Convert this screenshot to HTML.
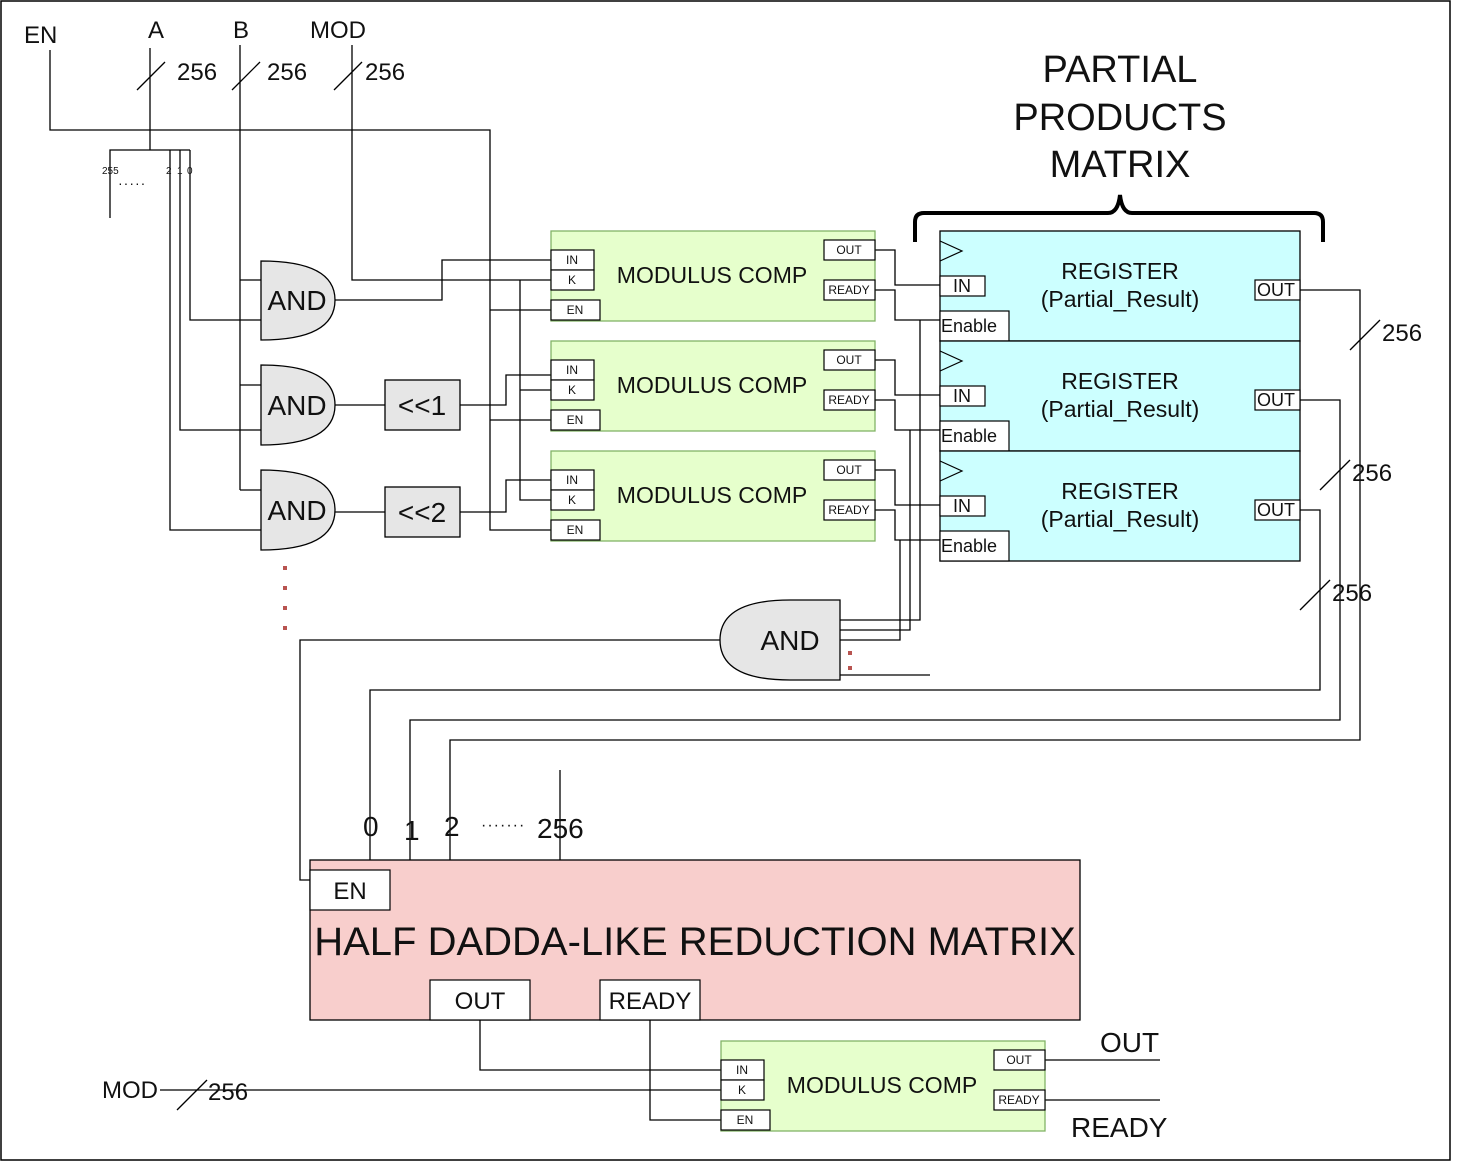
<!DOCTYPE html>
<html><head><meta charset="utf-8"><style>
html,body{margin:0;padding:0;background:#fff}
svg{display:block}
text{font-family:"Liberation Sans",Arial,sans-serif;fill:#111}
</style></head><body>
<svg width="1481" height="1162" viewBox="0 0 1481 1162" xmlns="http://www.w3.org/2000/svg">
<rect x="1" y="1" width="1449" height="1159" fill="#fff" stroke="#000" stroke-width="1.5"/>
<g stroke="#000" stroke-width="1.3" fill="none">
<polyline points="50,50 50,130 490,130 490,530 551,530"/>
<line x1="490" y1="310" x2="551" y2="310"/>
<line x1="490" y1="420" x2="551" y2="420"/>
<line x1="150" y1="48" x2="150" y2="150"/>
<polyline points="110,218 110,150 190,150"/>
<line x1="137" y1="90" x2="165" y2="62"/>
<polyline points="190,150 190,320 261,320"/>
<polyline points="180,150 180,430 261,430"/>
<polyline points="170,150 170,530 261,530"/>
<line x1="240" y1="45" x2="240" y2="490"/>
<line x1="232" y1="90" x2="260" y2="62"/>
<line x1="240" y1="280" x2="261" y2="280"/>
<line x1="240" y1="385" x2="261" y2="385"/>
<line x1="240" y1="490" x2="261" y2="490"/>
<polyline points="352,45 352,280 551,280"/>
<line x1="334" y1="90" x2="362" y2="62"/>
<polyline points="520,280 520,500 551,500"/>
<line x1="520" y1="390" x2="551" y2="390"/>
<polyline points="333,300 442,300 442,260 551,260"/>
<line x1="333" y1="405" x2="385" y2="405"/>
<line x1="333" y1="512" x2="385" y2="512"/>
<polyline points="460,405 506,405 506,375 551,375"/>
<polyline points="460,512 506,512 506,480 551,480"/>
<polyline points="875,250 895,250 895,285 940,285"/>
<polyline points="875,290 895,290 895,320 940,320"/>
<polyline points="875,360 895,360 895,395 940,395"/>
<polyline points="875,400 895,400 895,430 940,430"/>
<polyline points="875,470 895,470 895,505 940,505"/>
<polyline points="875,510 895,510 895,540 940,540"/>
<polyline points="920,320 920,620 840,620"/>
<polyline points="910,430 910,630 840,630"/>
<polyline points="900,540 900,640 840,640"/>
<line x1="840" y1="675" x2="930" y2="675"/>
<polyline points="720,640 300,640 300,880 310,880"/>
<polyline points="1300,290 1360,290 1360,740 450,740 450,860"/>
<polyline points="1300,400 1340,400 1340,720 410,720 410,860"/>
<polyline points="1300,510 1320,510 1320,690 370,690 370,860"/>
<line x1="1350" y1="350" x2="1380" y2="320"/>
<line x1="1320" y1="490" x2="1350" y2="460"/>
<line x1="1300" y1="610" x2="1330" y2="580"/>
<line x1="560" y1="770" x2="560" y2="860"/>
<polyline points="480,1020 480,1070 721,1070"/>
<polyline points="650,1020 650,1120 721,1120"/>
<line x1="160" y1="1090" x2="721" y2="1090"/>
<line x1="177" y1="1110" x2="207" y2="1080"/>
<line x1="1045" y1="1060" x2="1160" y2="1060"/>
<line x1="1045" y1="1100" x2="1160" y2="1100"/>
<path d="M915,242 V222 Q915,213 924,213 H1108 Q1118,213 1120,195 Q1122,213 1132,213 H1314 Q1323,213 1323,222 V242" stroke-width="4"/>
</g>
<g fill="#e6e6e6" stroke="#000" stroke-width="1.3">
<path d="M261,261 Q335,261 335,300 Q335,340 261,340 Z"/>
<path d="M261,365 Q335,365 335,405 Q335,445 261,445 Z"/>
<path d="M261,470 Q335,470 335,510 Q335,550 261,550 Z"/>
<path d="M840,600 H790 Q720,600 720,640 Q720,680 790,680 H840 Z"/>
<rect x="385" y="380" width="75" height="50"/>
<rect x="385" y="487" width="75" height="50"/>
</g>
<g font-size="28" text-anchor="middle">
<text x="297" y="310">AND</text><text x="297" y="415">AND</text><text x="297" y="520">AND</text>
<text x="790" y="650">AND</text>
<text x="422" y="415">&lt;&lt;1</text><text x="422" y="522">&lt;&lt;2</text>
</g>
<g fill="#b85450">
<rect x="283" y="566" width="4" height="4"/><rect x="283" y="586" width="4" height="4"/><rect x="283" y="606" width="4" height="4"/><rect x="283" y="626" width="4" height="4"/>
<rect x="848" y="651" width="4" height="4"/><rect x="848" y="666" width="4" height="4"/>
</g>
<g id="mc">
<rect x="551" y="231" width="324" height="90" fill="#e6ffcc" stroke="#82b366" stroke-width="1.3"/>
<g fill="#fff" stroke="#000" stroke-width="1.2">
<rect x="551" y="250" width="43" height="20"/><rect x="551" y="270" width="43" height="20"/><rect x="551" y="300" width="49" height="20"/>
<rect x="824" y="240" width="51" height="20"/><rect x="824" y="280" width="51" height="20"/>
</g>
<g font-size="12" text-anchor="middle">
<text x="572" y="264">IN</text><text x="572" y="284">K</text><text x="575" y="314">EN</text>
<text x="849" y="254">OUT</text><text x="849" y="294">READY</text>
</g>
<text x="712" y="283" font-size="23" text-anchor="middle">MODULUS COMP</text>
</g>
<use href="#mc" y="110"/><use href="#mc" y="220"/>
<use href="#mc" x="170" y="810"/>
<g id="rg">
<rect x="940" y="231" width="360" height="110" fill="#ccffff" stroke="#000" stroke-width="1.3"/>
<polyline points="940,241 962,251 940,261" fill="none" stroke="#000" stroke-width="1.2"/>
<g fill="#fff" stroke="#000" stroke-width="1.2">
<rect x="940" y="276" width="45" height="20"/><rect x="940" y="311" width="69" height="30"/><rect x="1255" y="280" width="45" height="20"/>
</g>
<g font-size="18">
<text x="953" y="292">IN</text><text x="941" y="332">Enable</text><text x="1257" y="296">OUT</text>
</g>
<g font-size="23" text-anchor="middle"><text x="1120" y="279">REGISTER</text><text x="1120" y="307">(Partial_Result)</text></g>
</g>
<use href="#rg" y="110"/><use href="#rg" y="220"/>
<rect x="310" y="860" width="770" height="160" fill="#f8cecc" stroke="#000" stroke-width="1.3"/>
<g fill="#fff" stroke="#000" stroke-width="1.2">
<rect x="310" y="870" width="80" height="40"/><rect x="430" y="980" width="100" height="40"/><rect x="600" y="980" width="100" height="40"/>
</g>
<g font-size="24" text-anchor="middle">
<text x="350" y="899">EN</text><text x="480" y="1009">OUT</text><text x="650" y="1009">READY</text>
</g>
<text x="695" y="955" font-size="40" text-anchor="middle">HALF DADDA-LIKE REDUCTION MATRIX</text>
<g font-size="24">
<text x="24" y="43">EN</text><text x="148" y="38">A</text><text x="233" y="38">B</text><text x="310" y="38">MOD</text>
<text x="177" y="80">256</text><text x="267" y="80">256</text><text x="365" y="80">256</text>
<text x="1382" y="341">256</text><text x="1352" y="481">256</text><text x="1332" y="601">256</text>
<text x="102" y="1098">MOD</text><text x="208" y="1100">256</text>
</g>
<g font-size="28">
<text x="363" y="836">0</text><text x="404" y="840">1</text><text x="444" y="836">2</text><text x="537" y="838">256</text>
<text x="1100" y="1052">OUT</text><text x="1071" y="1137">READY</text>
</g>
<text x="481" y="830" font-size="16" letter-spacing="1">·······</text>
<g font-size="10"><text x="102" y="174">255</text><text x="166" y="174">2</text><text x="177" y="174">1</text><text x="187" y="174">0</text></g>
<text x="118" y="188" font-size="14" letter-spacing="1">·····</text>
<g font-size="38" text-anchor="middle">
<text x="1120" y="82">PARTIAL</text><text x="1120" y="130">PRODUCTS</text><text x="1120" y="177">MATRIX</text>
</g>
</svg>
</body></html>
